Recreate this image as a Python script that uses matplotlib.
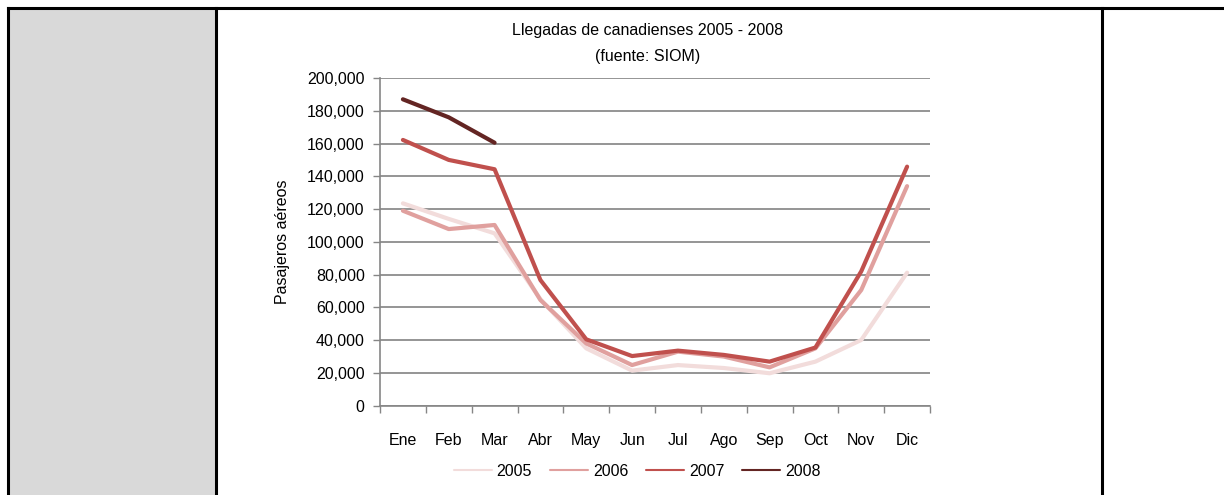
import numpy as np
import matplotlib.pyplot as plt
from matplotlib.lines import Line2D
from matplotlib.patches import Rectangle
from matplotlib.ticker import FuncFormatter

plt.rcParams['font.family'] = ['Liberation Sans', 'DejaVu Sans']
plt.rcParams['font.size'] = 11.5

meses = ['Ene', 'Feb', 'Mar', 'Abr', 'May', 'Jun', 'Jul', 'Ago', 'Sep', 'Oct', 'Nov', 'Dic']
anios = ['2005', '2006', '2007', '2008']
y2005 = [123500, 114000, 105200, 65000, 35000, 21400, 24800, 23000, 19800, 26900, 40100, 81200]
y2006 = [119000, 107800, 110300, 64500, 38000, 24800, 33000, 30000, 23400, 35000, 70600, 134000]
y2007 = [162200, 150000, 144300, 76700, 40500, 30300, 33600, 31000, 26900, 35500, 82000, 145900]
y2008 = [187000, 176000, 160500]
colores = ['#F2DCDB', '#E0A09E', '#C0504D', '#632523']

W, H = 1224, 495
fig = plt.figure(figsize=(W / 100, H / 100), dpi=100)

def fx(px):
    return px / W

def fy(py):
    return 1 - py / H

# celdas de la tabla
fig.add_artist(Rectangle((fx(8), 0), fx(216) - fx(8), fy(8), transform=fig.transFigure,
                         facecolor='#D9D9D9', edgecolor='none', zorder=0))
bordes = [((8, 1224), (8, 8)), ((8, 8), (8, 495)), ((216, 216), (8, 495)), ((1102, 1102), (8, 495))]
for xs, ys in bordes:
    fig.add_artist(Line2D([fx(xs[0]), fx(xs[1])], [fy(ys[0]), fy(ys[1])],
                          transform=fig.transFigure, color='black', lw=2.2))

ax = fig.add_axes([fx(380), fy(405.7), fx(930) - fx(380), fy(78) - fy(405.7)])
x = np.arange(len(meses))
series = [y2005, y2006, y2007, y2008]
for serie, nombre, c in zip(series, anios, colores):
    ax.plot(x[:len(serie)], serie, color=c, lw=3, label=nombre, solid_capstyle='round')

ax.set_xlim(-0.5, 11.5)
ax.set_ylim(0, 200000)
ax.set_yticks(np.arange(0, 200001, 20000))
ax.yaxis.set_major_formatter(FuncFormatter(lambda v, p: f'{int(v):,}'))
ax.set_xticks(np.arange(-0.5, 12, 1))
ax.set_xticklabels([])
ax.set_xticks(x, minor=True)
ax.set_xticklabels(meses, minor=True)
ax.tick_params(axis='x', which='minor', length=0, pad=20)
ax.tick_params(axis='x', which='major', length=5, color='#868686', width=1)
ax.tick_params(axis='y', length=5, color='#868686', width=1, pad=6)
ax.grid(axis='y', color='#8C8C8C', lw=1.3)
ax.set_axisbelow(True)
for s in ['top', 'right']:
    ax.spines[s].set_visible(False)
for s in ['left', 'bottom']:
    ax.spines[s].set_color('#868686')
    ax.spines[s].set_linewidth(1.2)
ax.set_ylabel('Pasajeros aéreos', labelpad=12)

fig.text(fx(648), fy(30), 'Llegadas de canadienses 2005 - 2008', ha='center', va='center')
fig.text(fx(648), fy(57), '(fuente: SIOM)', ha='center', va='center')

leg = ax.legend(loc='center', bbox_to_anchor=(fx(637), fy(471)), bbox_transform=fig.transFigure,
                ncol=4, frameon=False, handlelength=2.4, handletextpad=0.3, columnspacing=1.1,
                borderpad=0, borderaxespad=0)
for h in leg.get_lines():
    h.set_linewidth(1.5)

fig.savefig('out.png', dpi=100)
